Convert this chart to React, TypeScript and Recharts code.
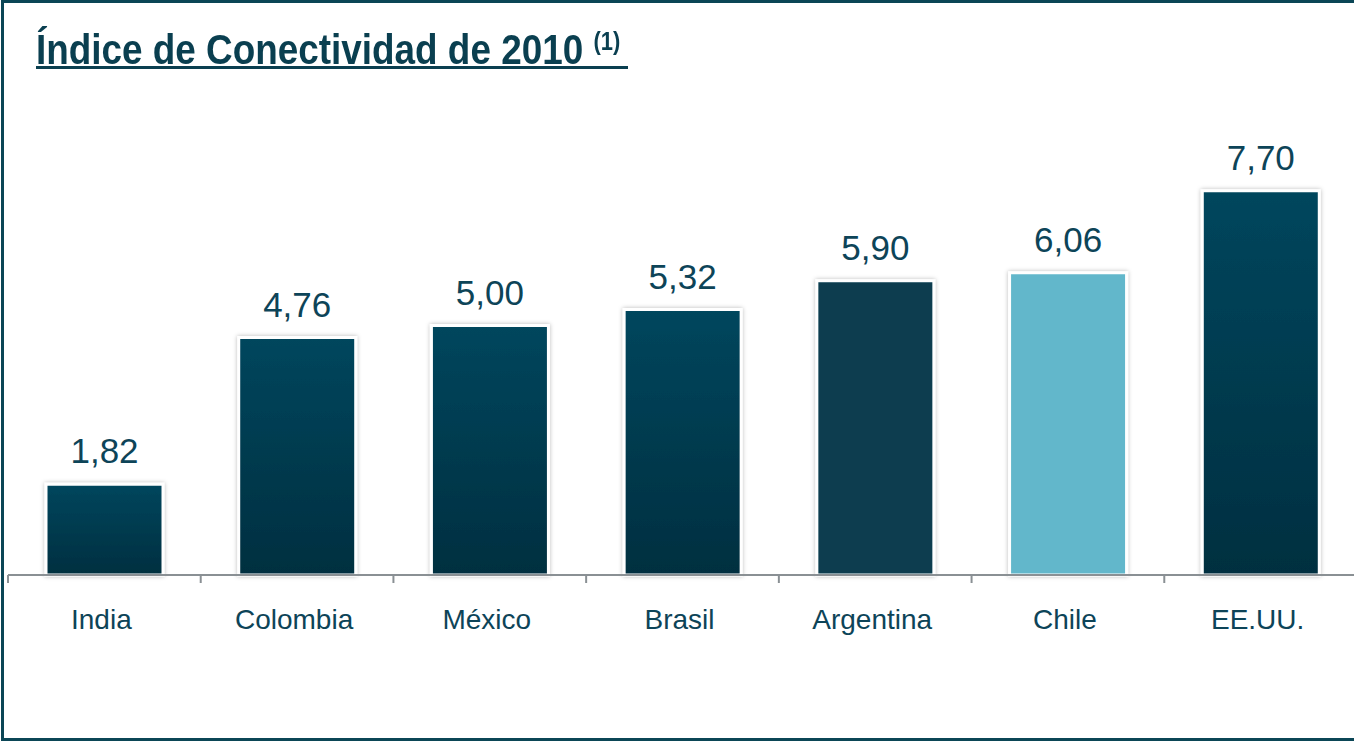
import React from 'react';
import { BarChart, Bar, XAxis, YAxis, Cell, LabelList } from 'recharts';

const categories = ['India', 'Colombia', 'México', 'Brasil', 'Argentina', 'Chile', 'EE.UU.'];
const values = [1.82, 4.76, 5.0, 5.32, 5.9, 6.06, 7.7];
const yDomain: [number, number] = [0, 9];

const data = categories.map((name, i) => ({ name, value: values[i] }));

const barFills = [
  'url(#barGrad)',
  'url(#barGrad)',
  'url(#barGrad)',
  'url(#barGrad)',
  '#073d4f',
  '#62b7cb',
  'url(#barGrad)',
];

const CHART_W = 1400;
const CHART_H = 741;
const MARGIN = { top: 126, right: 43, left: 8, bottom: 106 };
const PLOT_W = CHART_W - MARGIN.left - MARGIN.right;
const HALF_BAND = PLOT_W / categories.length / 2;
const TEXT_COLOR = '#0d4458';
const FONT = '"Liberation Sans", Arial, Helvetica, sans-serif';

const CategoryTick = (props: any) => {
  const { x, y, payload } = props;
  const axisY = y - 8;
  return (
    <g>
      <line x1={x - HALF_BAND} x2={x - HALF_BAND} y1={axisY} y2={axisY + 8} stroke="#8a9094" strokeWidth={2} />
      <text x={x - 3} y={axisY + 54} textAnchor="middle" fill={TEXT_COLOR} fontSize={28} fontFamily={FONT}>
        {payload.value}
      </text>
    </g>
  );
};

const ValueLabel = (props: any) => {
  const { x, y, width, value } = props;
  return (
    <text x={x + width / 2} y={y - 21} textAnchor="middle" fill={TEXT_COLOR} fontSize={35} fontFamily={FONT}>
      {Number(value).toFixed(2).replace('.', ',')}
    </text>
  );
};

export default function App() {
  return (
    <div
      style={{
        position: 'absolute',
        left: 0,
        top: 0,
        width: 1354,
        height: 741,
        overflow: 'hidden',
        background: '#ffffff',
      }}
    >
      <div
        style={{
          position: 'absolute',
          left: 1,
          top: 0,
          width: 1420,
          height: 741,
          boxSizing: 'border-box',
          borderTop: '3px solid #0b4656',
          borderLeft: '3px solid #0b4656',
          borderBottom: '3px solid #0b4656',
        }}
      />
      <div
        style={{
          position: 'absolute',
          left: 36,
          top: 29,
          fontFamily: FONT,
          fontWeight: 'bold',
          fontSize: 42,
          lineHeight: '42px',
          color: '#0a3f50',
          whiteSpace: 'nowrap',
          transform: 'scaleX(0.878)',
          transformOrigin: '0 0',
        }}
      >
        Índice de Conectividad de 2010{' '}
        <span style={{ fontSize: 25, position: 'relative', top: -14 }}>(1)</span>
      </div>
      <div
        style={{
          position: 'absolute',
          left: 36,
          top: 66,
          width: 592,
          height: 3,
          background: '#0a3f50',
        }}
      />
      <div style={{ position: 'absolute', left: 0, top: 0 }}>
        <BarChart width={CHART_W} height={CHART_H} data={data} margin={MARGIN}>
          <defs>
            <linearGradient id="barGrad" x1="0" y1="0" x2="0" y2="1">
              <stop offset="0%" stopColor="#02465d" />
              <stop offset="100%" stopColor="#022f40" />
            </linearGradient>
            <filter id="barShadow" x="-10%" y="-10%" width="120%" height="120%">
              <feDropShadow dx="0" dy="0" stdDeviation="2.2" floodColor="#000000" floodOpacity="0.28" />
            </filter>
          </defs>
          <XAxis
            dataKey="name"
            height={60}
            axisLine={{ stroke: '#8a9094', strokeWidth: 2 }}
            tickLine={false}
            tick={<CategoryTick />}
            interval={0}
          />
          <YAxis hide domain={yDomain} />
          <Bar dataKey="value" barSize={117} stroke="#ffffff" strokeWidth={3} isAnimationActive={false}>
            {data.map((d, i) => (
              <Cell key={d.name} fill={barFills[i]} filter="url(#barShadow)" />
            ))}
            <LabelList dataKey="value" content={<ValueLabel />} />
          </Bar>
        </BarChart>
      </div>
    </div>
  );
}
